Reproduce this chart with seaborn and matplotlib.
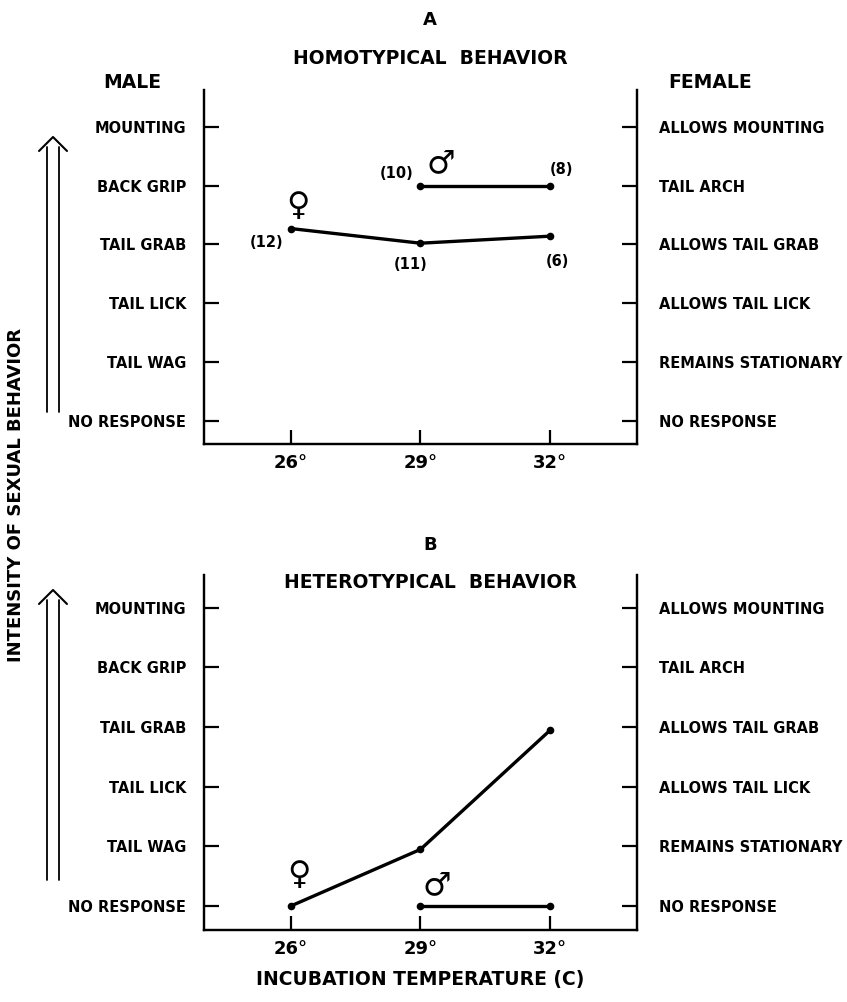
import matplotlib
matplotlib.use("Agg")
import matplotlib.pyplot as plt
import seaborn as sns
import pandas as pd
from matplotlib.lines import Line2D

# data
temps = [26, 29, 32]
temp_labels = ["26°", "29°", "32°"]
male_levels = ["NO RESPONSE", "TAIL WAG", "TAIL LICK", "TAIL GRAB", "BACK GRIP", "MOUNTING"]
female_levels = ["NO RESPONSE", "REMAINS STATIONARY", "ALLOWS TAIL LICK",
                 "ALLOWS TAIL GRAB", "TAIL ARCH", "ALLOWS MOUNTING"]

homo_female_temp = [26, 29, 32]
homo_female_score = [3.27, 3.02, 3.14]
homo_female_n = [12, 11, 6]
homo_male_temp = [29, 32]
homo_male_score = [4.0, 4.0]
homo_male_n = [10, 8]

hetero_female_temp = [26, 29, 32]
hetero_female_score = [0.0, 0.95, 2.95]
hetero_male_temp = [29, 32]
hetero_male_score = [0.0, 0.0]

sns.set_style("ticks")
plt.rcParams["font.family"] = ["DejaVu Sans"]
plt.rcParams["font.weight"] = "bold"
plt.rcParams["axes.linewidth"] = 1.6
for key in ["text.color", "axes.labelcolor", "xtick.color", "ytick.color", "axes.edgecolor"]:
    plt.rcParams[key] = "black"

fig = plt.figure(figsize=(8.47, 10.02), dpi=100)
ax_a = fig.add_axes([0.2409, 0.5569, 0.511, 0.3533])
ax_b = fig.add_axes([0.2409, 0.0719, 0.511, 0.3543])


def draw_panel(ax, f_temp, f_score, m_temp, m_score, ylim):
    df = pd.DataFrame({
        "temp": f_temp + m_temp,
        "score": f_score + m_score,
        "sex": ["female"] * len(f_temp) + ["male"] * len(m_temp),
    })
    sns.lineplot(data=df, x="temp", y="score", hue="sex",
                 palette={"female": "black", "male": "black"},
                 marker="o", markersize=5.5, markeredgewidth=0,
                 linewidth=2.4, estimator=None, sort=False, legend=False, ax=ax)
    ax.set_xlim(24, 34)
    ax.set_ylim(*ylim)
    ax.set_xticks(temps)
    ax.set_xticklabels(temp_labels)
    ax.set_yticks(range(len(male_levels)))
    ax.set_yticklabels(male_levels)
    ax.set_xlabel("")
    ax.set_ylabel("")
    ax.spines["top"].set_visible(False)
    ax.tick_params(axis="x", direction="in", length=10, width=1.6, pad=7, labelsize=13)
    ax.tick_params(axis="y", direction="in", length=11, width=1.6, pad=13, labelsize=10.5)

    ax2 = ax.twinx()
    ax2.set_ylim(*ylim)
    ax2.set_yticks(range(len(female_levels)))
    ax2.set_yticklabels(female_levels)
    ax2.spines["top"].set_visible(False)
    ax2.tick_params(axis="y", direction="in", length=11, width=1.6, pad=16, labelsize=10.5)
    for lab in ax.get_xticklabels() + ax.get_yticklabels() + ax2.get_yticklabels():
        lab.set_fontweight("bold")
    return ax2


draw_panel(ax_a, homo_female_temp, homo_female_score, homo_male_temp, homo_male_score, (-0.4, 5.63))
draw_panel(ax_b, hetero_female_temp, hetero_female_score, hetero_male_temp, hetero_male_score, (-0.4, 5.55))

sym = dict(family="DejaVu Sans", fontsize=23, fontweight="normal",
           textcoords="offset points", ha="center", va="center")
num = dict(textcoords="offset points", ha="center", va="center",
           fontsize=10.5, fontweight="bold")

# panel A annotations
offs_f = [(-17, -10), (-7, -15), (5, -18)]
for t, s, n, o in zip(homo_female_temp, homo_female_score, homo_female_n, offs_f):
    ax_a.annotate(f"({n})", (t, s), xytext=o, **num)
offs_m = [(-17, 9), (8, 12)]
for t, s, n, o in zip(homo_male_temp, homo_male_score, homo_male_n, offs_m):
    ax_a.annotate(f"({n})", (t, s), xytext=o, **num)
ax_a.annotate("♀", (homo_female_temp[0], homo_female_score[0]), xytext=(5, 16), **sym)
ax_a.annotate("♂", (homo_male_temp[0], homo_male_score[0]), xytext=(15, 16), **sym)

# panel B annotations
ax_b.annotate("♀", (hetero_female_temp[0], hetero_female_score[0]), xytext=(6, 22), **sym)
ax_b.annotate("♂", (hetero_male_temp[0], hetero_male_score[0]), xytext=(12, 15), **sym)

# titles and headings
W, H = 847, 1002


def ftext(x, y, s, **kw):
    fig.text(x / W, 1 - y / H, s, ha="center", va="center", fontweight="bold", **kw)


ftext(430, 20, "A", fontsize=13)
ftext(430, 58, "HOMOTYPICAL  BEHAVIOR", fontsize=13.5)
ftext(132, 83, "MALE", fontsize=13.5)
ftext(710, 83, "FEMALE", fontsize=13.5)
ftext(430, 545, "B", fontsize=13)
ftext(430, 582, "HETEROTYPICAL  BEHAVIOR", fontsize=13.5)
ftext(420, 980, "INCUBATION TEMPERATURE (C)", fontsize=13.5)
ftext(16, 495, "INTENSITY OF SEXUAL BEHAVIOR", fontsize=13, rotation=90)


# double-shafted arrows on the left
def double_arrow(top, bottom):
    for x in (47, 59):
        fig.add_artist(Line2D([x / W, x / W], [1 - (top + 10) / H, 1 - bottom / H],
                              color="black", lw=1.3))
    fig.add_artist(Line2D([39 / W, 53 / W, 67 / W],
                          [1 - (top + 14) / H, 1 - top / H, 1 - (top + 14) / H],
                          color="black", lw=1.5))


double_arrow(137, 412)
double_arrow(590, 880)

fig.savefig("out.png", dpi=100)
